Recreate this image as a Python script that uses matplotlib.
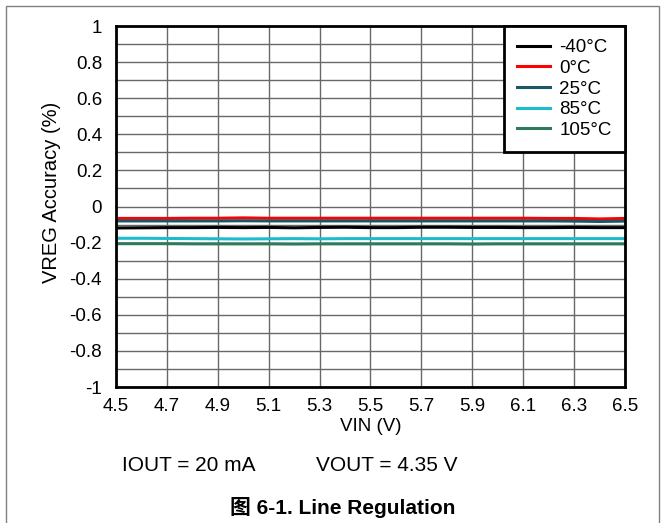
import numpy as np
import matplotlib
matplotlib.use("Agg")
import matplotlib.pyplot as plt
from matplotlib.patches import Rectangle

plt.rcParams["font.family"] = ["Liberation Sans", "Noto Sans CJK SC", "DejaVu Sans"]

vin = [4.5, 4.6, 4.7, 4.8, 4.9, 5.0, 5.1, 5.2, 5.3, 5.4, 5.5,
       5.6, 5.7, 5.8, 5.9, 6.0, 6.1, 6.2, 6.3, 6.4, 6.5]
acc_m40 = [-0.119, -0.118, -0.117, -0.117, -0.116, -0.117, -0.116, -0.118, -0.116, -0.115, -0.117,
           -0.117, -0.115, -0.115, -0.116, -0.116, -0.117, -0.117, -0.116, -0.117, -0.117]
acc_0 = [-0.066, -0.066, -0.066, -0.065, -0.065, -0.063, -0.065, -0.065, -0.065, -0.065, -0.065,
         -0.065, -0.065, -0.065, -0.065, -0.065, -0.065, -0.066, -0.066, -0.069, -0.066]
acc_25 = [-0.080, -0.080, -0.080, -0.080, -0.080, -0.079, -0.080, -0.080, -0.080, -0.080, -0.080,
          -0.080, -0.080, -0.080, -0.080, -0.080, -0.080, -0.080, -0.081, -0.083, -0.081]
acc_85 = [-0.176, -0.176, -0.177, -0.178, -0.179, -0.180, -0.179, -0.178, -0.179, -0.178, -0.178,
          -0.178, -0.178, -0.178, -0.178, -0.178, -0.178, -0.178, -0.178, -0.178, -0.178]
acc_105 = [-0.206, -0.206, -0.206, -0.207, -0.207, -0.207, -0.207, -0.208, -0.207, -0.207, -0.207,
           -0.207, -0.207, -0.207, -0.208, -0.207, -0.207, -0.207, -0.207, -0.207, -0.207]

series = [
    ("-40°C", acc_m40, "#000000"),
    ("0°C", acc_0, "#ff0000"),
    ("25°C", acc_25, "#1a5868"),
    ("85°C", acc_85, "#1cbccc"),
    ("105°C", acc_105, "#2e7a5a"),
]

fig = plt.figure(figsize=(6.65, 5.23), dpi=100)
ax = fig.add_axes([116 / 665, 1 - 387 / 523, 509 / 665, 361 / 523])

for label, vals, c in series:
    ax.plot(vin, vals, color=c, lw=2.2, label=label)

ax.set_xlim(4.5, 6.5)
ax.set_ylim(-1, 1)
ax.set_xticks(np.arange(4.5, 6.51, 0.2))
ax.set_xticklabels([f"{v:.1f}" for v in np.arange(4.5, 6.51, 0.2)])
ax.set_yticks(np.arange(-1, 1.01, 0.2))
ax.set_yticklabels(["-1", "-0.8", "-0.6", "-0.4", "-0.2", "0", "0.2", "0.4", "0.6", "0.8", "1"])
ax.set_yticks(np.arange(-1, 1.01, 0.1), minor=True)
ax.grid(True, which="both", color="#686868", lw=1.0)
ax.tick_params(which="both", length=0, labelsize=13.5)
ax.tick_params(axis="x", pad=8)
ax.tick_params(axis="y", pad=10)
for sp in ax.spines.values():
    sp.set_linewidth(2.0)
ax.set_axisbelow(True)

ax.set_xlabel("VIN (V)", fontsize=13.5)
ax.xaxis.set_label_coords(0.5, -0.085)
ax.set_ylabel("VREG Accuracy (%)", fontsize=14.5)
ax.yaxis.set_label_coords(-0.108, 0.54)

leg = ax.legend(loc="upper right", fontsize=13.5, frameon=True, fancybox=False,
                edgecolor="black", framealpha=1, handlelength=1.75, handletextpad=0.53,
                borderaxespad=0, labelspacing=0.19, borderpad=0.7)
leg.get_frame().set_linewidth(2.0)

fig.text(122 / 665, 0.109, "IOUT = 20 mA", fontsize=15, va="center")
fig.text(316 / 665, 0.109, "VOUT = 4.35 V", fontsize=15, va="center")
fig.text(343 / 665, 0.029, "图 6-1. Line Regulation", fontsize=15, fontweight="bold",
         ha="center", va="center")

fig.patches.append(Rectangle((6 / 665, -0.05), 653 / 665, 1.05 - 6 / 523,
                             transform=fig.transFigure, fill=False,
                             edgecolor="#808080", lw=1.0))

fig.savefig("out.png", dpi=100)
